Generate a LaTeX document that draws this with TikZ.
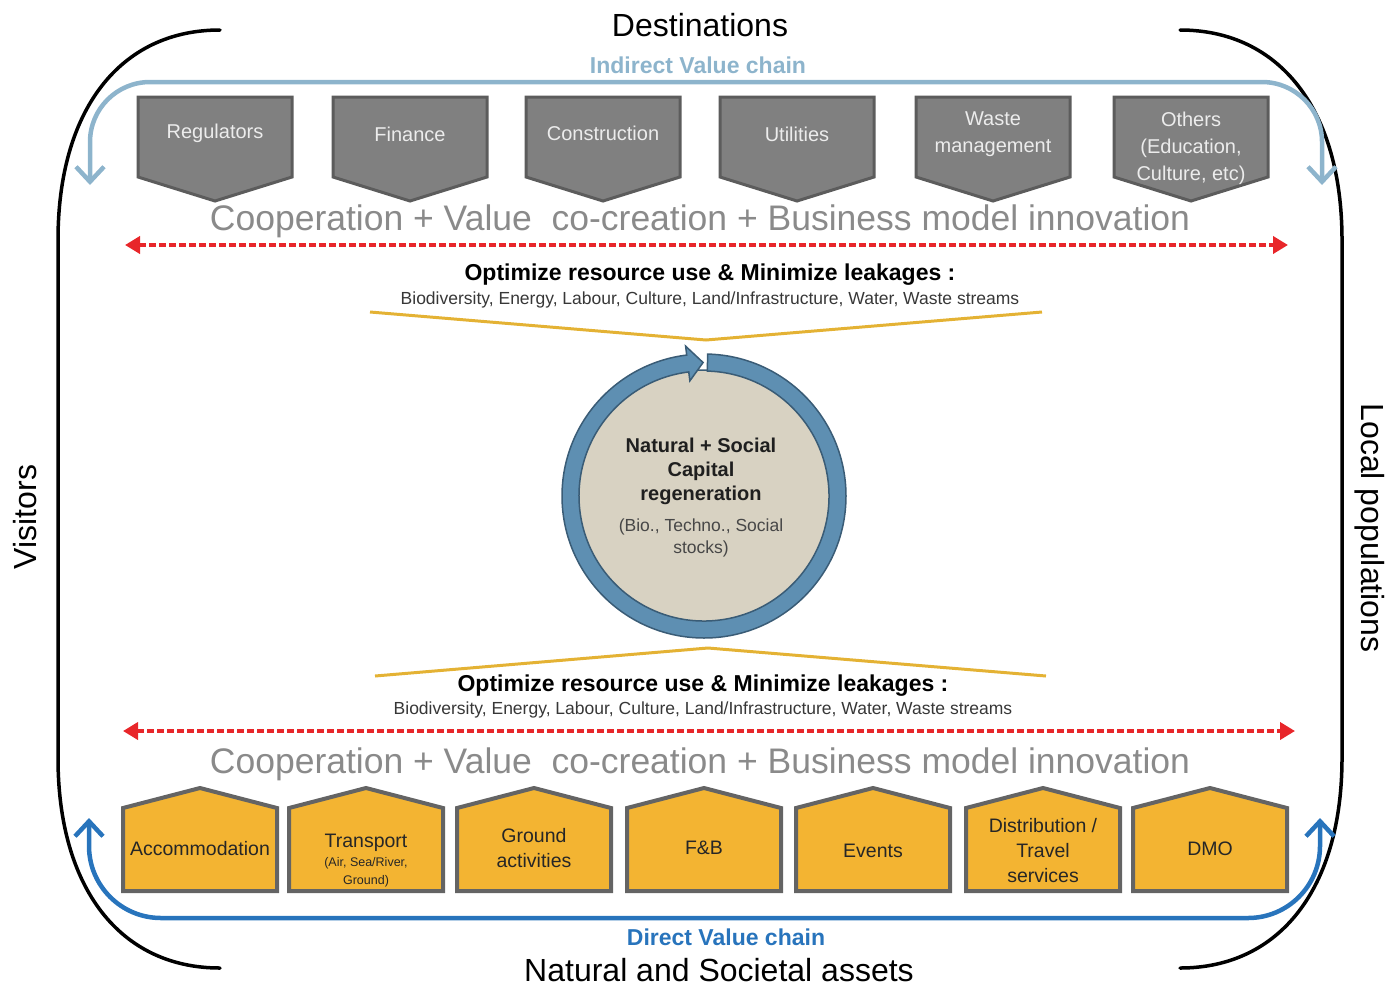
\documentclass[tikz,border=0pt]{standalone}
\usepackage{fontspec}
\setmainfont{Liberation Sans}
\usetikzlibrary{arrows.meta,calc}
\definecolor{lblue}{RGB}{141,180,204}
\definecolor{dblue}{RGB}{40,116,188}
\definecolor{pentgray}{RGB}{128,128,128}
\definecolor{pentedge}{RGB}{92,92,92}
\definecolor{pentfg}{RGB}{236,236,236}
\definecolor{coopgray}{RGB}{138,138,138}
\definecolor{redline}{RGB}{232,38,42}
\definecolor{gold}{RGB}{228,178,52}
\definecolor{ringblue}{RGB}{94,143,178}
\definecolor{ringedge}{RGB}{58,92,118}
\definecolor{beige}{RGB}{216,210,194}
\definecolor{ochre}{RGB}{243,180,50}
\definecolor{ochreedge}{RGB}{100,100,100}
\definecolor{darktext}{RGB}{38,38,38}
\definecolor{subtext}{RGB}{55,55,55}
\begin{document}
\begin{tikzpicture}[x=1pt,y=-1pt,
  bracket/.style={line width=3.5pt,line cap=round},
  bigtitle/.style={font=\fontsize{32}{38}\selectfont, inner sep=0pt},
  chainlbl/.style={font=\fontsize{23}{27}\selectfont\bfseries, inner sep=0pt},
  coop/.style={font=\fontsize{35.5}{40}\selectfont, text=coopgray, inner sep=0pt},
  optim/.style={font=\fontsize{23}{27}\selectfont\bfseries, inner sep=0pt},
  optsub/.style={font=\fontsize{17.5}{20}\selectfont, text=subtext, inner sep=0pt},
  graytxt/.style={font=\fontsize{20}{27}\selectfont, text=pentfg, align=center, inner sep=0pt},
  yeltxt/.style={font=\fontsize{19.5}{25}\selectfont, text=darktext, align=center, inner sep=0pt},
  yelsub/.style={font=\fontsize{12.5}{18}\selectfont, text=darktext, align=center, inner sep=0pt},
  captxt/.style={font=\fontsize{20}{24}\selectfont\bfseries, text=black!88, align=center, inner sep=0pt},
  capsubtxt/.style={font=\fontsize{17.5}{22}\selectfont, text=black!72, align=center, inner sep=0pt},
  graybox/.style={fill=pentgray, draw=pentedge, line width=3pt},
  yelbox/.style={fill=ochre, draw=ochreedge, line width=4pt},
  dashred/.style={draw=redline, line width=4.5pt, dash pattern=on 7pt off 3pt,
     {Triangle[length=15pt,width=17pt]}-{Triangle[length=15pt,width=17pt]}},
  goldline/.style={draw=gold, line width=3pt},
  chainarrow/.style={line width=4.5pt,
     {Straight Barb[length=15pt,width=28pt]}-{Straight Barb[length=15pt,width=28pt]}},
  ring/.style={fill=ringblue, draw=ringedge, line width=1.5pt, line join=miter}
]
\useasboundingbox (0,0) rectangle (1399,986);

% outer brackets
\draw[bracket] (220,30) .. controls (120,30) and (58,110) .. (58,240) -- (58,758)
   .. controls (58,888) and (120,968) .. (220,968);
\draw[bracket] (1180,30) .. controls (1280,30) and (1342,110) .. (1342,240) -- (1342,758)
   .. controls (1342,888) and (1280,968) .. (1180,968);

\node[bigtitle] (dest) at (700,25) {Destinations};
\node[bigtitle] (assets) at (719,970) {Natural and Societal assets};
\node[bigtitle, rotate=90] (visitors) at (25,517) {Visitors};
\node[bigtitle, rotate=-90] (locals) at (1370,528) {Local populations};

% indirect value chain
\coordinate (ia) at (90,185);
\coordinate (ib) at (1322,185);
\draw[chainarrow, lblue, rounded corners=60pt] (ia) -- (90,82) -- (1322,82) -- (ib);
\node[chainlbl, text=lblue] (indirect) at (698,65) {Indirect Value chain};

% direct value chain
\coordinate (da) at (89,818);
\coordinate (db) at (1320,818);
\draw[chainarrow, dblue, rounded corners=72pt] (da) -- (89,918) -- (1320,918) -- (db);
\node[chainlbl, text=dblue] (direct) at (726,937) {Direct Value chain};

% gray pentagons (indirect)
\foreach \cx in {215,410,603,797,993,1191}{
  \draw[graybox] (\cx-77,97) -- (\cx+77,97) -- (\cx+77,177) -- (\cx,201) -- (\cx-77,177) -- cycle;
}
\node[graytxt] (reg) at (215,133) {Regulators};
\node[graytxt] (fin) at (410,134) {Finance};
\node[graytxt] (con) at (603,133) {Construction};
\node[graytxt] (uti) at (797,134) {Utilities};
\node[graytxt] (was) at (993,134) {Waste\\management};
\node[graytxt] (oth) at (1191,148) {Others\\(Education,\\Culture, etc)};

% cooperation lines
\node[coop] (coopt) at (700,221) {Cooperation + Value\ \ co-creation + Business model innovation};
\coordinate (rta) at (125,245);
\coordinate (rtb) at (1288,245);
\draw[dashred] (rta) -- (rtb);

\node[optim] (optt) at (710,275) {Optimize resource use \& Minimize leakages :};
\node[optsub] (optts) at (710,300) {Biodiversity, Energy, Labour, Culture, Land/Infrastructure, Water, Waste streams};
\coordinate (gt1) at (370,312);
\coordinate (gt2) at (706,340);
\coordinate (gt3) at (1042,312);
\draw[goldline] (gt1) -- (gt2) -- (gt3);

% central circle
\node[circle, fill=beige, draw=ringedge, line width=1.5pt, minimum size=252pt, inner sep=0pt] (cap) at (704,496) {};
\filldraw[ring] ($(cap.center)+(88.5:142pt)$) arc[start angle=88.5, end angle=-263, radius=142pt]
  -- ($(cap.center)+(-263:151pt)$) -- ($(cap.center)+(-269.6:133.5pt)$)
  -- ($(cap.center)+(-263:116pt)$) -- ($(cap.center)+(-263:125pt)$)
  arc[start angle=-263, end angle=88.5, radius=125pt] -- cycle;
\node[captxt] (captitle) at (701,471) {Natural + Social\\Capital\\regeneration};
\node[capsubtxt] (capsub) at (701,538) {(Bio., Techno., Social\\stocks)};

% lower part
\coordinate (gb1) at (375,676);
\coordinate (gb2) at (708,648);
\coordinate (gb3) at (1046,676);
\draw[goldline] (gb1) -- (gb2) -- (gb3);
\node[optim] (optb) at (703,686) {Optimize resource use \& Minimize leakages :};
\node[optsub] (optbs) at (703,710) {Biodiversity, Energy, Labour, Culture, Land/Infrastructure, Water, Waste streams};
\coordinate (rba) at (123,731);
\coordinate (rbb) at (1295,731);
\draw[dashred] (rba) -- (rbb);
\node[coop] (coopb) at (700,764) {Cooperation + Value\ \ co-creation + Business model innovation};

% yellow pentagons (direct)
\foreach \cx in {200,366,534,704,873,1043,1210}{
  \draw[yelbox] (\cx-77,891) -- (\cx-77,808) -- (\cx,788) -- (\cx+77,808) -- (\cx+77,891) -- cycle;
}
\node[yeltxt] (acc) at (200,849) {Accommodation};
\node[yeltxt] (tra) at (366,843) {Transport};
\node[yelsub] (trasub) at (366,872) {(Air, Sea/River,\\Ground)};
\node[yeltxt] (gro) at (534,848) {Ground\\activities};
\node[yeltxt] (fnb) at (704,848) {F\&B};
\node[yeltxt] (eve) at (873,851) {Events};
\node[yeltxt] (dis) at (1043,851) {Distribution /\\Travel\\services};
\node[yeltxt] (dmo) at (1210,849) {DMO};
\end{tikzpicture}
\end{document}
